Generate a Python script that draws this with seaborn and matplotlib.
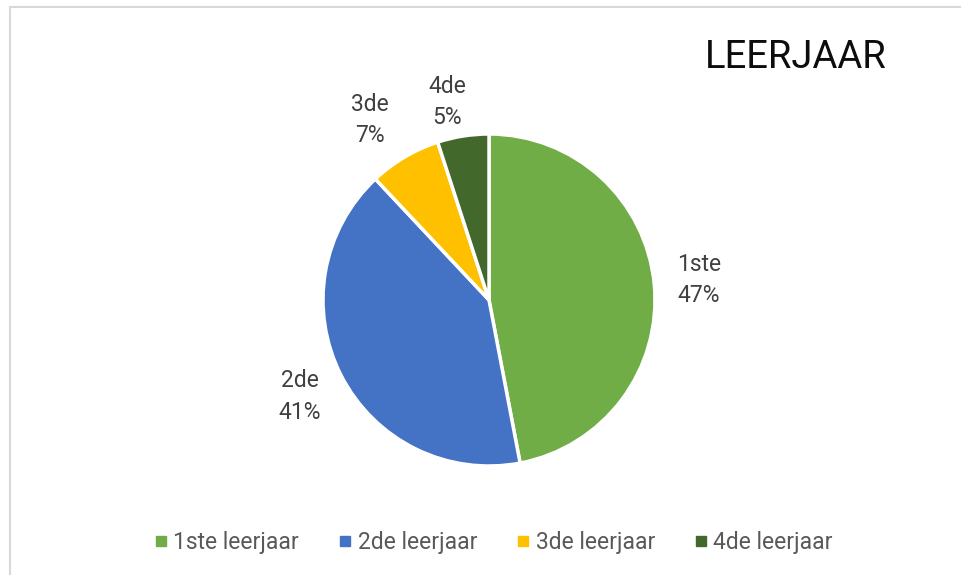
import matplotlib
matplotlib.use("Agg")
import matplotlib.pyplot as plt
import numpy as np
import seaborn as sns
from matplotlib.lines import Line2D
from matplotlib.patches import Rectangle

categories = ["1ste", "2de", "3de", "4de"]
legend_labels = ["1ste leerjaar", "2de leerjaar", "3de leerjaar", "4de leerjaar"]
values = [47, 41, 7, 5]
colors = ["#70AD47", "#4472C4", "#FFC000", "#43682B"]
title = "LEERJAAR"

sns.set_theme(style="white")
plt.rcParams["font.family"] = ["Roboto", "DejaVu Sans"]

W, H = 962, 575
fig = plt.figure(figsize=(W / 100, H / 100), dpi=100)
fig.patch.set_facecolor("white")

# pie axes: center (489, 300) px, radius 165 px
cx, cy, r = 489, 575 - 300, 166
k = 1.4
side = 2 * r * k
ax = fig.add_axes([(cx - side / 2) / W, (cy - side / 2) / H, side / W, side / H])

labels = [f"{c}\n{v}%" for c, v in zip(categories, values)]
wedges, texts = ax.pie(values, colors=colors, labels=labels, startangle=90,
                       counterclock=False, radius=1.0, labeldistance=1.28,
                       wedgeprops=dict(edgecolor="white", linewidth=2.5),
                       textprops=dict(ha="center", va="center", fontsize=16.5,
                                      color="#404040", linespacing=1.45))
# label placement per slice (Excel "best fit")
label_dist = [1.27, 1.28, 1.30, 1.22]
label_turn = [0.0, 0.0, 3.0, 3.0]
for t, w, d, dt in zip(texts, wedges, label_dist, label_turn):
    ang = np.deg2rad((w.theta1 + w.theta2) / 2 + dt)
    t.set_position((d * np.cos(ang), d * np.sin(ang)))

ax.set_xlim(-k, k)
ax.set_ylim(-k, k)
ax.set_aspect("equal")
ax.axis("off")

fig.text(887 / W, 1 - 57 / H, title, ha="right", va="center", fontsize=27.5,
         color="#0d0d0d")

handles = [Line2D([], [], marker="s", linestyle="none", markersize=6.5,
                  markerfacecolor=c, markeredgecolor=c) for c in colors]
fig.legend(handles, legend_labels, loc="center", ncol=4,
           bbox_to_anchor=(494 / W, 1 - 543 / H), frameon=False,
           fontsize=16.5, labelcolor="#595959", handlelength=0.5,
           handletextpad=0.3, columnspacing=1.75)

border = Rectangle((10 / W, -0.1), 1.2, 1 - 7 / H + 0.1, transform=fig.transFigure,
                   fill=False, edgecolor="#D9D9D9", linewidth=1.5)
fig.add_artist(border)

fig.savefig("out.png", dpi=100)
